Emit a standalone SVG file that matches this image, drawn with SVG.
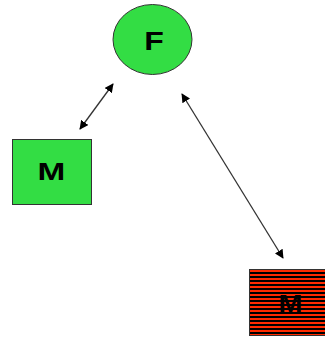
<svg xmlns="http://www.w3.org/2000/svg" width="325" height="337" viewBox="0 0 325 337">
<style>
.lbl{font-family:"Liberation Sans",Arial,sans-serif;font-weight:bold;fill:#000;text-anchor:middle}
.con{stroke:#333;stroke-width:1.3;fill:none;marker-start:url(#ah);marker-end:url(#ah)}
</style>
<defs>
<marker id="ah" viewBox="0 0 10 10" refX="9" refY="5" markerWidth="9" markerHeight="9" markerUnits="userSpaceOnUse" orient="auto-start-reverse">
<path d="M0,0 L10,5 L0,10 z" fill="#000"/>
</marker>
<pattern id="stripes" patternUnits="userSpaceOnUse" x="0" y="269" width="8" height="4">
<rect width="8" height="4" fill="#000"/>
<rect y="1" width="8" height="2" fill="#ff2a00"/>
</pattern>
</defs>
<rect width="325" height="337" fill="#fff"/>
<g id="connectors">
<line class="con" x1="80" y1="129" x2="113" y2="84"/>
<line class="con" x1="182" y1="94" x2="283" y2="258"/>
</g>
<g id="F">
<ellipse cx="152.5" cy="39.5" rx="39.5" ry="35" fill="#33dd44" stroke="#333" stroke-width="1"/>
<text class="lbl" font-size="25" transform="translate(154 49.5) scale(1.28 1)">F</text>
</g>
<g id="M1">
<rect x="12.5" y="139.5" width="79" height="65" fill="#33dd44" stroke="#333" stroke-width="1"/>
<text class="lbl" font-size="23" transform="translate(51.3 179.5) scale(1.45 1)">M</text>
</g>
<g id="M2">
<rect x="249.5" y="269.5" width="76" height="66" fill="url(#stripes)" stroke="#333" stroke-width="1"/>
<text class="lbl" font-size="24" transform="translate(290.5 311.5) scale(1.2 1)">M</text>
</g>
</svg>
